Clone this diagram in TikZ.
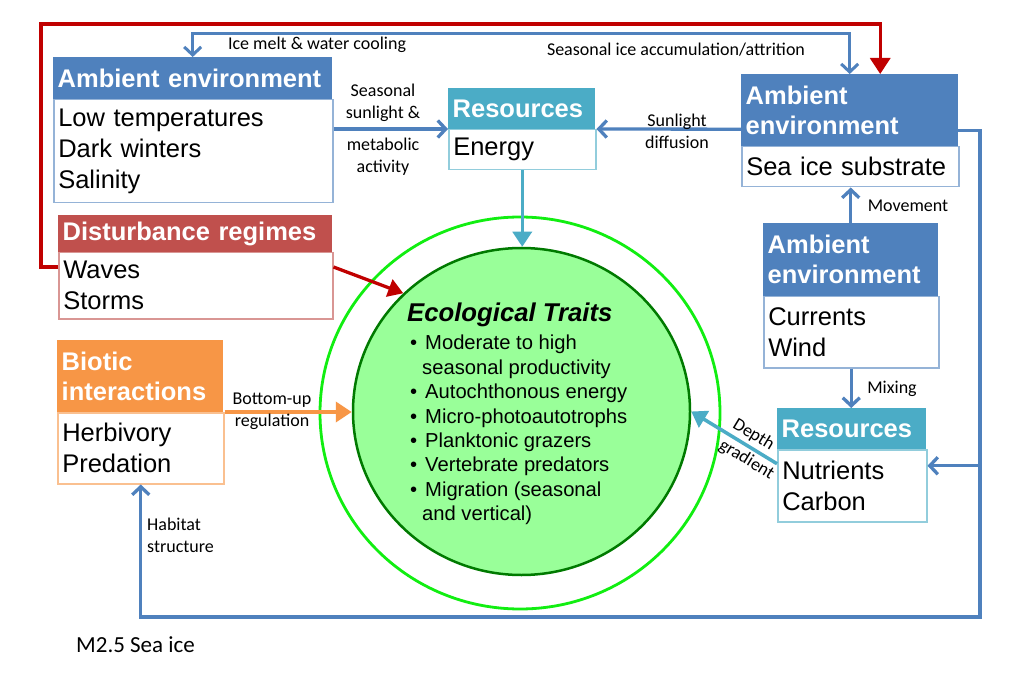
\documentclass[tikz,border=0pt]{standalone}
\usepackage{fontspec}
\setmainfont{Liberation Sans}
\newfontfamily\lblfamily{Carlito}
\usetikzlibrary{arrows.meta,calc,shapes.geometric}
\definecolor{hblue}{HTML}{4F81BD}
\definecolor{lblue}{HTML}{95B3D7}
\definecolor{hteal}{HTML}{4BACC6}
\definecolor{lteal}{HTML}{92CDDC}
\definecolor{hred}{HTML}{C0504D}
\definecolor{lred}{HTML}{D99694}
\definecolor{hora}{HTML}{F79646}
\definecolor{lora}{HTML}{FAC090}
\definecolor{darkred}{HTML}{C00000}
\definecolor{brightgreen}{HTML}{11EE11}
\definecolor{innergreen}{HTML}{99FF99}
\definecolor{darkgreen}{HTML}{007A00}
\newcommand\hdrfont{\fontsize{25.5}{30}\selectfont\bfseries}
\newcommand\bdyfont{\fontsize{25.5}{31}\selectfont}
\newcommand\lblfont{\lblfamily\fontsize{18}{22}\selectfont}
\newcommand\bulfont{\fontsize{20.2}{24.4}\selectfont}
\newcommand\bul{\makebox[15pt][l]{\textbullet}}
\tikzset{
  hdr/.style={anchor=north west, inner xsep=4.5pt, inner ysep=0pt, font=\hdrfont, text=white, align=left},
  bdy/.style={anchor=north west, inner xsep=4.5pt, inner ysep=0pt, font=\bdyfont, align=left, fill=white, line width=1.5pt},
  lbl/.style={font=\lblfont, align=center, inner sep=0pt},
  bluearr/.style={draw=hblue, line width=3.3pt, -{Straight Barb[length=8pt,width=17pt]}},
  bluedbl/.style={draw=hblue, line width=3pt, {Straight Barb[length=8pt,width=17pt]}-{Straight Barb[length=8pt,width=17pt]}},
  redarr/.style={draw=darkred, line width=3.3pt, -{Triangle[length=15pt,width=18pt]}},
  tealarr/.style={draw=hteal, line width=3.5pt, -{Triangle[length=15pt,width=19pt]}},
  oraarr/.style={draw=hora, line width=3.6pt, -{Triangle[length=16pt,width=20pt]}},
}
\begin{document}
\begin{tikzpicture}[x=1pt,y=-1pt]
\useasboundingbox (0,0) rectangle (1011,700);
\fill[white] (0,0) rectangle (1011,700);

% circles
\node[ellipse, draw=brightgreen, line width=2.8pt, minimum width=400pt, minimum height=392pt, inner sep=0pt] (outer) at (520,413) {};
\node[ellipse, draw=darkgreen, fill=innergreen, line width=2.5pt, minimum width=337pt, minimum height=327pt, inner sep=0pt] (inner) at (521.5,411.5) {};
\node[anchor=base west, inner sep=0pt, font=\fontsize{25.7}{30}\selectfont\bfseries\itshape] (ettitle) at (407,322) {Ecological Traits};
\node[anchor=north west, inner sep=0pt, align=left, font=\bulfont] (etlist) at (410,335) {\bul Moderate to high\\
\hspace*{12pt}seasonal productivity\\
\bul Autochthonous energy\\
\bul Micro-photoautotrophs\\
\bul Planktonic grazers\\
\bul Vertebrate predators\\
\bul Migration (seasonal\\
\hspace*{12pt}and vertical)};

% boxes
\node[hdr, fill=hblue, minimum width=279pt, text width=270pt, minimum height=42pt] (lah) at (53,57) {\mbox{Ambient environment}};
\node[bdy, draw=lblue, minimum width=279pt, text width=270pt, minimum height=103pt] (lab) at (53,99) {Low temperatures\\Dark winters\\Salinity};

\node[hdr, fill=hteal, minimum width=147pt, text width=138pt, minimum height=41pt] (reh) at (448,88) {Resources};
\node[bdy, draw=lteal, minimum width=147pt, text width=138pt, minimum height=40pt] (reb) at (448,129) {Energy};

\node[hdr, fill=hblue, minimum width=217pt, text width=208pt, minimum height=72pt] (rah) at (741,74) {Ambient\\environment};
\node[bdy, draw=lblue, minimum width=217pt, text width=208pt, minimum height=40pt] (rab) at (741,146) {\mbox{Sea ice substrate}};

\node[hdr, fill=hred, minimum width=274pt, text width=265pt, minimum height=37pt] (dh) at (58,215) {\mbox{Disturbance regimes}};
\node[bdy, draw=lred, minimum width=274pt, text width=265pt, minimum height=66pt] (db) at (58,252) {Waves\\Storms};

\node[hdr, fill=hora, minimum width=166pt, text width=157pt, minimum height=72pt] (bh) at (57,340) {Biotic\\interactions};
\node[bdy, draw=lora, minimum width=166pt, text width=157pt, minimum height=71pt] (bb) at (57,412) {Herbivory\\Predation};

\node[hdr, fill=hblue, minimum width=175pt, text width=166pt, minimum height=73pt] (ch) at (763,223) {Ambient\\environment};
\node[bdy, draw=lblue, minimum width=175pt, text width=166pt, minimum height=71pt] (cb) at (763,296) {Currents\\Wind};

\node[hdr, fill=hteal, minimum width=149pt, text width=140pt, minimum height=41pt] (nh) at (777,408) {Resources};
\node[bdy, draw=lteal, minimum width=149pt, text width=140pt, minimum height=72pt] (nb) at (777,449) {Nutrients\\Carbon};

% coordinates
\coordinate (redcorner) at (41,24);
\coordinate (topblue) at (500,34);
\coordinate (rb) at (980,617);

% connectors
\draw[draw=darkred, line width=3.3pt, -{Triangle[length=16pt,width=20pt]}] ($(db.north west)+(0,15)$) -| (redcorner) -| ($(rah.north)+(30.5,0)$);
\draw[bluedbl] (lah.north) |- (topblue) -| (rah.north);
\draw[bluearr] ($(lab.north east)+(0,30)$) -- (reb.north west);
\draw[bluearr] ($(rah.west)+(0,19)$) -- (reb.north east);
\draw[tealarr] (reb.south) -- (reb.south |- inner.north);
\draw[redarr] ($(db.north east)+(0,15)$) -- (inner.135);
\draw[oraarr] (bb.north east) -- (bb.north east -| inner.west);
\draw[bluearr] (ch.north) -- (ch.north |- rab.south);
\draw[bluearr] (cb.south) -- (cb.south |- nh.north);
\draw[tealarr] ($(nb.west)+(0,-22)$) --
  node[lbl, sloped, pos=0.35, above=3pt] (depthlbl) {Depth}
  node[lbl, sloped, pos=0.28, below=3pt] (gradlbl) {gradient} (inner.east);
\draw[bluearr] ($(rah.east)+(0,20)$) -| (rb) -| (bb.south);
\coordinate (nbr) at ($(nb.east)+(0,-20)$);
\draw[bluearr] (rb |- nbr) -- (nbr);

% labels
\node[lbl] (l1) at (317,45) {Ice melt \& water cooling};
\node[lbl] (l2) at (676,50) {Seasonal ice accumulation/attrition};
\node[lbl] (l3) at (383,102.5) {Seasonal\\sunlight \&};
\node[lbl] (l4) at (383,156.5) {metabolic\\activity};
\node[lbl] (l5) at (677,131) {Sunlight\\diffusion};
\node[lbl] (l6) at (908,206) {Movement};
\node[lbl] (l7) at (892,389) {Mixing};
\node[lbl] (l8) at (272,411) {Bottom-up\\regulation};
\node[lbl, align=left, anchor=west] (l9) at (147,535) {Habitat\\structure};
\node[anchor=west, inner sep=0pt, font=\lblfamily\fontsize{23}{27}\selectfont] (caption) at (76,645) {M2.5 Sea ice};
\end{tikzpicture}
\end{document}
